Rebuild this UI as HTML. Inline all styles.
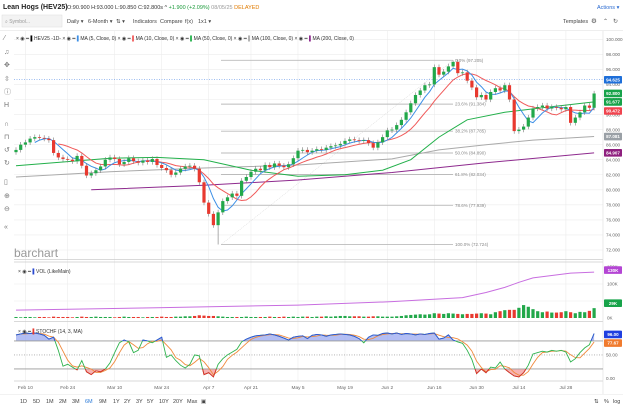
<!DOCTYPE html>
<html><head><meta charset="utf-8"><style>
html,body{margin:0;padding:0;background:#fff;width:623px;height:407px;overflow:hidden}
svg{display:block;font-family:"Liberation Sans",sans-serif}
</style></head><body>
<svg id="c" width="623" height="407" viewBox="0 0 623 407">
<g>
<text x="3" y="9" font-size="7" font-weight="bold" fill="#222">Lean Hogs (HEV25)</text>
<text x="67" y="9" font-size="5.5" fill="#333">O:90.900 H:93.000 L:90.850 C:92.800s ^ <tspan fill="#1a9a3a">+1.900 (+2.09%)</tspan> <tspan fill="#999">08/05/25</tspan> <tspan fill="#e07b00">DELAYED</tspan></text>
<text x="597" y="9" font-size="5.5" fill="#2a6ad0">Actions ▾</text>
<rect x="2" y="15" width="60" height="12" fill="#f3f3f3" stroke="#ddd" stroke-width="0.5"/>
<text x="5" y="23" font-size="5" fill="#999">⌕ Symbol...</text>
<text x="67" y="23" font-size="5.5" fill="#444">Daily ▾</text>
<text x="88" y="23" font-size="5.5" fill="#444">6-Month ▾</text>
<text x="116" y="23" font-size="5.5" fill="#444">⇅ ▾</text>
<text x="133" y="23" font-size="5.5" fill="#444">Indicators</text>
<text x="160" y="23" font-size="5.5" fill="#444">Compare</text>
<text x="185" y="23" font-size="5.5" fill="#444">f(x)</text>
<text x="198" y="23" font-size="5.5" fill="#444">1x1 ▾</text>
<text x="563" y="23" font-size="5.5" fill="#444">Templates</text>
<text x="591" y="23" font-size="6.5" fill="#555">⚙</text>
<text x="603" y="23" font-size="6" fill="#555">⌃</text>
<text x="613" y="23" font-size="6" fill="#555">↻</text>
<line x1="0" y1="30.5" x2="623" y2="30.5" stroke="#ddd" stroke-width="0.6"/>
</g>
<g id="tools"></g>
<g id="grid"></g>
<g id="fib"></g>
<g id="ma"></g>
<g id="candles"></g>
<g id="vol"></g>
<g id="stoch"></g>
<g id="axes"></g>
<g font-size="5" fill="#333">
<text x="16" y="40">× ◉ ━ <tspan fill="#000">▌</tspan>HEV25 -1D-  × ◉ ━ <tspan fill="#3d8fe6">▌</tspan>MA (5, Close, 0)  × ◉ ━ <tspan fill="#f05a5a">▌</tspan>MA (10, Close, 0)  × ◉ ━ <tspan fill="#22b04a">▌</tspan>MA (50, Close, 0)  × ◉ ━ <tspan fill="#aaa">▌</tspan>MA (100, Close, 0)  × ◉ ━ <tspan fill="#8e2a8e">▌</tspan>MA (200, Close, 0)</text>
</g>
<text x="14" y="257" font-size="12" fill="#999">barchart</text>
<text x="18" y="273" font-size="5" fill="#333">× ◉ ━ <tspan fill="#2a4ad0">▌</tspan>VOL (LikeMain)</text>
<text x="18" y="333" font-size="5" fill="#333">× ◉ ━ <tspan fill="#e8392f">▌</tspan>STOCHF (14, 3, MA)</text>
<g font-size="5.5" fill="#444">
<line x1="0" y1="394.5" x2="623" y2="394.5" stroke="#e5e5e5" stroke-width="0.6"/>
<text x="20" y="403">1D</text><text x="33" y="403">5D</text><text x="46" y="403">1M</text><text x="59" y="403">2M</text><text x="72" y="403">3M</text><text x="85" y="403" fill="#2a7ad8">6M</text><text x="99" y="403">9M</text><text x="113" y="403">1Y</text><text x="124" y="403">2Y</text><text x="136" y="403">3Y</text><text x="147" y="403">5Y</text><text x="159" y="403">10Y</text><text x="173" y="403">20Y</text><text x="187" y="403">Max</text><text x="201" y="403">▣</text>
<text x="594" y="403">⇅</text><text x="604" y="403">%</text><text x="613" y="403">log</text>
</g>
</svg>
<script>
// ---- data ----
const closes = [85.3,86.0,86.3,86.8,87.0,86.9,86.8,86.6,84.9,84.3,84.1,84.0,83.8,84.5,83.2,81.9,
82.2,82.6,83.1,84.0,84.3,84.1,83.4,83.7,84.2,83.8,83.6,83.9,83.7,84.1,83.3,82.9,82.6,82.0,82.3,82.8,83.1,
83.2,82.8,81.0,78.3,76.8,75.3,77.0,78.5,79.0,79.5,79.2,81.2,81.7,82.4,82.8,82.6,83.3,83.0,83.5,83.2,83.0,
83.4,84.2,85.2,85.3,85.0,85.2,85.4,85.3,85.6,85.8,85.9,86.1,86.5,86.7,86.6,86.5,86.6,86.2,85.6,86.3,87.0,
87.9,88.0,88.6,89.3,90.3,91.5,92.6,93.2,93.9,94.0,96.3,95.3,95.7,96.4,97.0,95.5,95.6,94.5,93.6,92.3,
92.6,92.0,93.0,93.5,93.2,93.9,92.0,87.8,88.0,88.4,89.6,90.8,91.0,91.2,90.8,91.0,90.9,90.7,91.0,88.9,89.6,90.3,
91.2,90.9,92.8];
const firstOpen = 85.0;
const lowOverride = {43: 72.724, 93: 96.2};
const highOverride = {93: 97.205};
const volumes = [3,2,3,3,2,3,3,2,4,3,3,3,2,3,4,3,
3,4,3,3,3,2,3,4,3,3,3,2,3,3,3,4,3,3,4,4,5,
5,6,8,7,6,6,5,4,3,3,3,3,4,3,3,3,3,4,3,3,4,
3,4,3,4,4,3,4,4,5,4,5,6,6,5,5,5,4,4,5,5,4,
4,4,5,6,8,9,10,11,10,11,14,13,12,14,13,12,11,12,12,13,
14,13,11,17,20,23,24,24,30,38,33,26,20,17,19,16,16,17,20,17,14,18,
17,21,29];
const oiIdx = [0,30,60,80,95,100,104,107,110,118,123];
const oiVal = [23,30,38,48,60,75,90,105,118,132,135];
const stochK = [93,95,97,96,97,95,92,84,88,60,26,30,24,18,38,14,
8,16,14,20,33,55,76,82,78,55,60,82,80,76,82,88,45,50,38,28,22,
30,50,48,8,12,3,30,42,50,56,62,78,84,88,91,92,93,95,93,90,86,
82,88,90,91,85,92,94,93,90,93,94,95,94,93,90,85,76,88,93,92,96,
97,95,97,94,96,95,93,95,94,96,97,84,86,93,82,78,75,60,40,10,
20,12,24,22,35,20,12,5,3,12,28,52,55,58,56,60,58,60,56,35,42,55,
65,72,96];
const ma50Idx = [0,10,20,30,40,50,60,70,78,84,90,96,104,112,123];
const ma50Val = [83.2,83.7,84.2,84.3,84.0,82.6,81.8,82.0,82.6,84.0,87.0,89.3,90.3,90.9,91.68];
const ma100Idx = [0,20,40,60,80,90,100,110,123];
const ma100Val = [81.7,82.4,82.9,83.3,84.1,85.3,86.0,86.6,87.08];
const ma200Idx = [16,40,60,80,100,123];
const ma200Val = [80.0,80.6,81.3,82.3,83.6,84.91];
const dateLabels = ["Feb 10","Feb 24","Mar 10","Mar 24","Apr 7","Apr 21","May 5","May 19","Jun 2","Jun 16","Jun 30","Jul 14","Jul 28"];
const dateIdx = [2,11,21,31,41,50,60,70,79,89,98,107,117];
const priceTicks = [100,98,96,94,92,90,88,86,84,82,80,78,76,74,72];
const fibPct = ["0.0%","23.6%","38.2%","50.0%","61.8%","78.6%","100.0%"];
const fibVal = [97.205,91.384,87.785,84.890,82.034,77.939,72.724];
const volTicks = [150,100,50,0];
const stochTicks = [50,0];
const lastPrice = 94.625;
const ma10Last = 90.472;

// ---- axes ----
const X0=16, DX=4.7, PR=603;
const xi = i => X0 + i*DX;
const yP = p => 39.3 + (100-p)*7.525;
const yV = v => 318 - v*0.34;
const yS = s => 378.3 - s*0.467;
const NS='http://www.w3.org/2000/svg';
function mk(tag, attrs, parent){const e=document.createElementNS(NS,tag);for(const k in attrs)e.setAttribute(k,attrs[k]);parent.appendChild(e);return e;}
const G = id => document.getElementById(id);

// toolbar
const toolGlyphs=['⁄','♫','✥','⇳','ⓘ','H','∩','⊓','↺','↻','▯','⊕','⊖','«'];
const toolY=[38,52,65,79,92,105,124,137,150,163,182,196,209,227];
toolGlyphs.forEach((g,k)=>{const t=mk('text',{x:4,y:toolY[k]+2,'font-size':7,fill:'#777'},G('tools'));t.textContent=g;

});

// grid
const grid=G('grid');
priceTicks.forEach(p=>{const l=mk('line',{x1:14,x2:PR,y1:yP(p),y2:yP(p),stroke:'#ececec','stroke-width':0.6},grid);

});
dateIdx.forEach(i=>{const l=mk('line',{x1:xi(i),x2:xi(i),y1:31,y2:381,stroke:'#ececec','stroke-width':0.6},grid);

});
[[14,PR,259.5],[14,PR,262],[14,PR,321.5],[14,PR,381]].forEach(a=>mk('line',{x1:a[0],x2:a[1],y1:a[2],y2:a[2],stroke:'#ccc','stroke-width':0.8},grid));
[yV(100),yV(50)].forEach(y=>mk('line',{x1:14,x2:PR,y1:y,y2:y,stroke:'#ececec','stroke-width':0.6},grid));
mk('line',{x1:PR,x2:PR,y1:31,y2:394,stroke:'#ddd','stroke-width':0.6},grid);
mk('line',{x1:14,x2:PR,y1:yP(lastPrice),y2:yP(lastPrice),stroke:'#3d7be0','stroke-width':0.6,'stroke-dasharray':'1,1.5'},grid);

// fib
const fib=G('fib');
fibVal.forEach((v,k)=>{const l=mk('line',{x1:221,x2:453,y1:yP(v),y2:yP(v),stroke:'#bbb','stroke-width':0.9},fib);


const t=mk('text',{x:455,y:yP(v)+1.5,'font-size':4.5,fill:'#888'},fib);t.textContent=fibPct[k]+' ('+fibVal[k].toFixed(3)+')';});
mk('line',{x1:221,y1:yP(fibVal[6]),x2:453,y2:yP(fibVal[0]),stroke:'#ccc','stroke-width':0.5,'stroke-dasharray':'1,1'},fib);

// moving averages
function sma(n){return closes.map((c,i)=>{if(i<n-1)return null;let s=0;for(let k=i-n+1;k<=i;k++)s+=closes[k];return s/n;});}
function pathFrom(idx,val){return idx.map((i,k)=>(k?'L':'M')+xi(i).toFixed(1)+','+yP(val[k]).toFixed(1)).join('');}
const ma=G('ma');
const m200=mk('path',{d:pathFrom(ma200Idx,ma200Val),fill:'none',stroke:'#8e2a8e','stroke-width':1},ma);


const m100=mk('path',{d:pathFrom(ma100Idx,ma100Val),fill:'none',stroke:'#aaa','stroke-width':1},ma);


const m50=mk('path',{d:pathFrom(ma50Idx,ma50Val),fill:'none',stroke:'#22b04a','stroke-width':1},ma);


[[10,'#f05a5a','ma10-line'],[5,'#3d8fe6','ma5-line']].forEach(([n,col,name])=>{const a=sma(n);let d='';a.forEach((v,i)=>{if(v!==null)d+=(d?'L':'M')+xi(i).toFixed(1)+','+yP(v).toFixed(1);});
const p=mk('path',{d:d,fill:'none',stroke:col,'stroke-width':1},ma);

});

// candles
const cg=G('candles');
closes.forEach((c,i)=>{const o=i?closes[i-1]:firstOpen;const up=c>=o;const col=up?'#22a84a':'#e8392f';
const hi=highOverride[i]!==undefined?highOverride[i]:Math.max(o,c)+0.35;const lo=lowOverride[i]!==undefined?lowOverride[i]:Math.min(o,c)-0.35;
const w=mk('line',{x1:xi(i),x2:xi(i),y1:yP(hi),y2:yP(lo),stroke:'#777','stroke-width':0.6},cg);


const top=yP(Math.max(o,c));const h=Math.max(0.8,yP(Math.min(o,c))-top);
const b=mk('rect',{x:xi(i)-1.6,y:top,width:3.2,height:h,fill:col},cg);

});

// volume
const vg=G('vol');
volumes.forEach((v,i)=>{const o=i?closes[i-1]:firstOpen;const col=closes[i]>=o?'#22a84a':'#e8392f';
const r=mk('rect',{x:xi(i)-1.6,y:yV(v),width:3.2,height:318-yV(v),fill:col},vg);

});
const oi=mk('path',{d:oiIdx.map((i,k)=>(k?'L':'M')+xi(i)+','+yV(oiVal[k])).join(''),fill:'none',stroke:'#c86ee0','stroke-width':1},vg);



// stochastic
const sg=G('stoch');
const stochD=stochK.map((v,i)=>i<2?v:(stochK[i]+stochK[i-1]+stochK[i-2])/3);
const kPts=stochK.map((v,i)=>[xi(i),yS(v)]);
const kD='M'+kPts.map(p=>p[0].toFixed(1)+','+p[1].toFixed(1)).join('L');
const defs=mk('defs',{},sg);
const c1=mk('clipPath',{id:'above'},defs);mk('rect',{x:0,y:320,width:623,height:yS(80)-320},c1);
const c2=mk('clipPath',{id:'below'},defs);mk('rect',{x:0,y:yS(20),width:623,height:381-yS(20)},c2);
const x0=xi(0),xN=xi(stochK.length-1);
mk('path',{d:kD+'L'+xN+','+yS(80)+'L'+x0+','+yS(80)+'Z',fill:'#9aa8f0',opacity:0.75,'clip-path':'url(#above)'},sg);
mk('path',{d:kD+'L'+xN+','+yS(20)+'L'+x0+','+yS(20)+'Z',fill:'#f59a9a',opacity:0.75,'clip-path':'url(#below)'},sg);
[[80,'#999','none'],[20,'#999','none'],[50,'#aaa','1,1.5']].forEach(([l,c,da])=>mk('line',{x1:14,x2:PR,y1:yS(l),y2:yS(l),stroke:c,'stroke-width':0.8,'stroke-dasharray':da},sg));
const dl=mk('path',{d:'M'+stochD.map((v,i)=>xi(i).toFixed(1)+','+yS(v).toFixed(1)).join('L'),fill:'none',stroke:'#f08a3c','stroke-width':0.9},sg);


const kl=mk('path',{d:kD,fill:'none',stroke:'#2fb34e','stroke-width':0.9},sg);


mk('path',{d:kD,fill:'none',stroke:'#3050e0','stroke-width':0.9,'clip-path':'url(#above)'},sg);
mk('path',{d:kD,fill:'none',stroke:'#e82525','stroke-width':0.9,'clip-path':'url(#below)'},sg);

// axis labels
const ax=G('axes');
priceTicks.forEach(p=>{const t=mk('text',{x:606,y:yP(p)+1.7,'font-size':4.6,fill:'#666'},ax);t.textContent=p.toFixed(3);

});
volTicks.forEach(v=>{const t=mk('text',{x:607,y:yV(v)+1.7,'font-size':4.6,fill:'#666'},ax);t.textContent=v+'K';});
stochTicks.forEach(v=>{const t=mk('text',{x:606,y:yS(v)+1.7,'font-size':4.6,fill:'#666'},ax);t.textContent=v.toFixed(2);});
dateLabels.forEach((d,k)=>{const t=mk('text',{x:xi(dateIdx[k]),y:389,'font-size':4.8,fill:'#666','text-anchor':'middle'},ax);t.textContent=d;

});
function tag(y,txt,bg){mk('rect',{x:604,y:y-3.8,width:18,height:7.6,fill:bg,rx:0.8},ax);const t=mk('text',{x:613,y:y+1.7,'font-size':4.5,fill:'#fff','font-weight':'bold','text-anchor':'middle'},ax);t.textContent=txt;

}
tag(yP(lastPrice),lastPrice.toFixed(3),'#1e6fd9');
tag(yP(closes[closes.length-1]),closes[closes.length-1].toFixed(3),'#17a34a');
tag(yP(ma50Val[ma50Val.length-1]),'91.677','#17a34a');
tag(yP(ma10Last),ma10Last.toFixed(3),'#f0444f');
tag(yP(ma100Val[ma100Val.length-1]),'87.081','#9aa0a6');
tag(yP(ma200Val[ma200Val.length-1]),'84.907','#8e1f7e');
tag(yV(oiVal[oiVal.length-1])-2,'130K','#b445d4');
tag(yV(volumes[volumes.length-1])-5,volumes[volumes.length-1]+'K','#17a34a');
tag(yS(stochK[stochK.length-1])+1,stochK[stochK.length-1].toFixed(2),'#1f3fe0');
tag(yS(stochD[stochD.length-1])+1,stochD[stochD.length-1].toFixed(2),'#f07b2e');
</script>
</body>
</html>
